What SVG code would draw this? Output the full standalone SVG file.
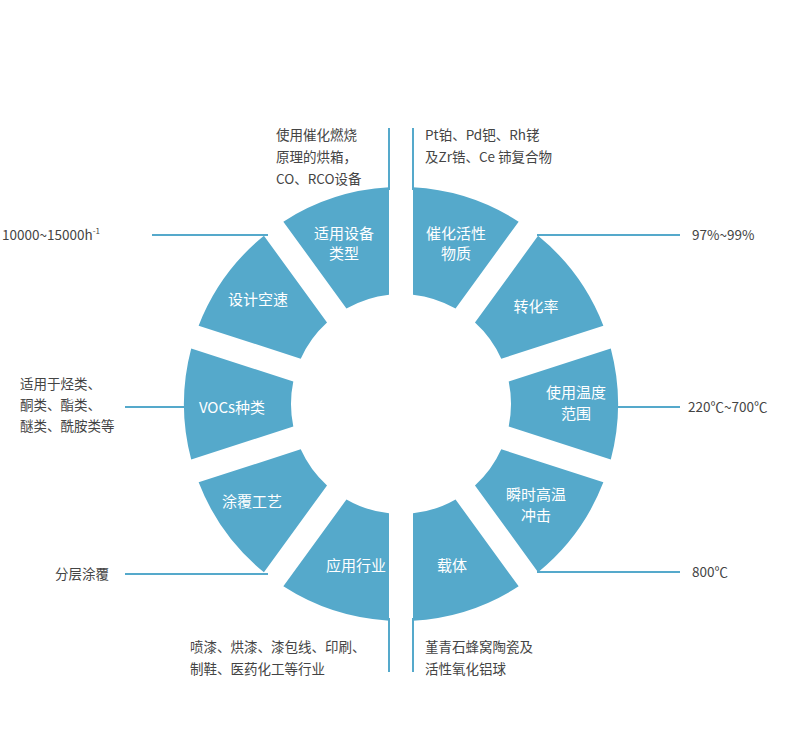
<svg xmlns="http://www.w3.org/2000/svg" width="790" height="732" viewBox="0 0 790 732">
<style>
.seg{fill:#55a9cb}
.lab{font-family:"Noto Sans CJK SC","Noto Sans",sans-serif;font-size:15px;fill:#fff;text-anchor:middle}
.t{font-family:"Noto Sans CJK SC","Noto Sans",sans-serif;font-size:13.5px;fill:#444}
.ln{stroke:#55a9cb;stroke-width:2;fill:none}
</style>
<rect width="790" height="732" fill="#fff"/>
<g id="connectors">
<path class="ln" d="M389,128V190M413,128V190M389,618V672M413,618V672M152,235H268M537,235H680M618,407H680M537,572H680M125,407H186M125,574H268"/>
</g>
<g transform="translate(401,404)">
<g id="n1"><path class="seg" d="M12,-216.67A217 217 0 0 1 117.65,-182.34L54.56,-95.51A110 110 0 0 0 12,-109.34Z"/><text class="lab" x="55" y="-165">催化活性</text><text class="lab" x="55" y="-145">物质</text></g>
<g id="n2"><path class="seg" d="M137.07,-168.24A217 217 0 0 1 202.36,-78.36L100.28,-45.2A110 110 0 0 0 73.98,-81.41Z"/><text class="lab" x="135" y="-92">转化率</text></g>
<g id="n3"><path class="seg" d="M209.78,-55.54A217 217 0 0 1 209.78,55.54L107.7,22.38A110 110 0 0 0 107.7,-22.38Z"/><text class="lab" x="175" y="-6">使用温度</text><text class="lab" x="175" y="15">范围</text></g>
<g id="n4"><path class="seg" d="M202.36,78.36A217 217 0 0 1 137.07,168.24L73.98,81.41A110 110 0 0 0 100.28,45.2Z"/><text class="lab" x="135" y="96">瞬时高温</text><text class="lab" x="135" y="117">冲击</text></g>
<g id="n5"><path class="seg" d="M117.65,182.34A217 217 0 0 1 12,216.67L12,109.34A110 110 0 0 0 54.56,95.51Z"/><text class="lab" x="51" y="167">载体</text></g>
<g id="n6"><path class="seg" d="M-12,216.67A217 217 0 0 1 -117.65,182.34L-54.56,95.51A110 110 0 0 0 -12,109.34Z"/><text class="lab" x="-45" y="167">应用行业</text></g>
<g id="n7"><path class="seg" d="M-137.07,168.24A217 217 0 0 1 -202.36,78.36L-100.28,45.2A110 110 0 0 0 -73.98,81.41Z"/><text class="lab" x="-149" y="103">涂覆工艺</text></g>
<g id="n8"><path class="seg" d="M-209.78,55.54A217 217 0 0 1 -209.78,-55.54L-107.7,-22.38A110 110 0 0 0 -107.7,22.38Z"/><text class="lab" x="-169" y="9">VOCs种类</text></g>
<g id="n9"><path class="seg" d="M-202.36,-78.36A217 217 0 0 1 -137.07,-168.24L-73.98,-81.41A110 110 0 0 0 -100.28,-45.2Z"/><text class="lab" x="-143" y="-99">设计空速</text></g>
<g id="n10"><path class="seg" d="M-117.65,-182.34A217 217 0 0 1 -12,-216.67L-12,-109.34A110 110 0 0 0 -54.56,-95.51Z"/><text class="lab" x="-57" y="-165">适用设备</text><text class="lab" x="-57" y="-145">类型</text></g>
</g>
<g id="notes">
<text class="t" x="2" y="240">10000~15000h<tspan font-size="8" dy="-6">-1</tspan></text>
<text class="t" x="692" y="240">97%~99%</text>
<text class="t" x="688" y="412">220℃~700℃</text>
<text class="t" x="692" y="577">800℃</text>
<text class="t" x="20" y="389">适用于烃类、</text>
<text class="t" x="20" y="410">酮类、酯类、</text>
<text class="t" x="20" y="431">醚类、酰胺类等</text>
<text class="t" x="55" y="579">分层涂覆</text>
<text class="t" x="276" y="140">使用催化燃烧</text>
<text class="t" x="276" y="162">原理的烘箱，</text>
<text class="t" x="276" y="184">CO、RCO设备</text>
<text class="t" x="425" y="140">Pt铂、Pd钯、Rh铑</text>
<text class="t" x="425" y="162">及Zr锆、Ce 铈复合物</text>
<text class="t" x="190" y="652">喷漆、烘漆、漆包线、印刷、</text>
<text class="t" x="190" y="674">制鞋、医药化工等行业</text>
<text class="t" x="425" y="652">堇青石蜂窝陶瓷及</text>
<text class="t" x="425" y="674">活性氧化铝球</text>
</g>
</svg>
